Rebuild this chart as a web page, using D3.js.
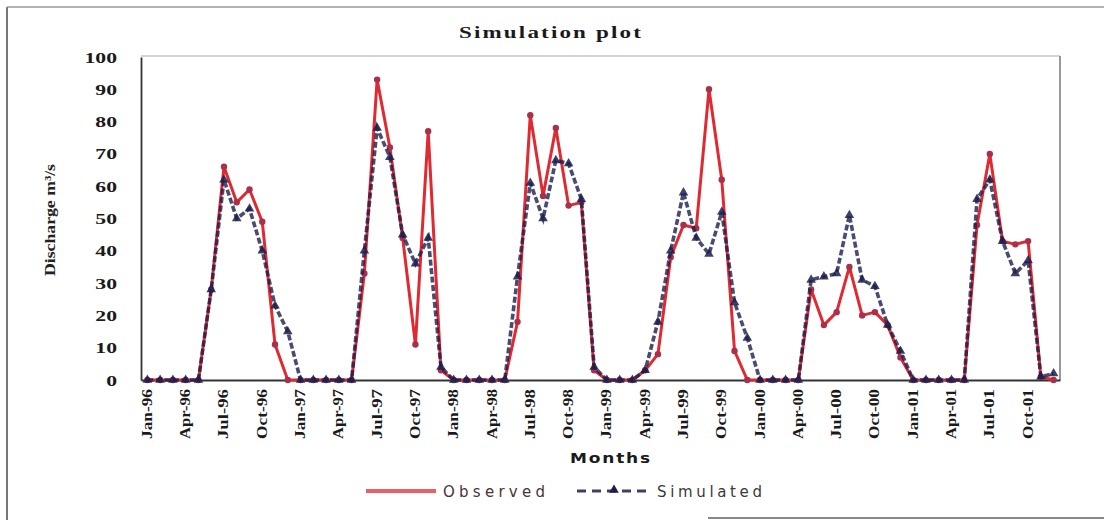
<!DOCTYPE html>
<html>
<head>
<meta charset="utf-8">
<script src="https://cdn.jsdelivr.net/npm/d3@7"></script>
<style>
  html, body { margin: 0; padding: 0; background: #ffffff; }
  svg { display: block; }
</style>
</head>
<body>
<svg id="chart" width="1104" height="520"></svg>
<script>
// Monthly categories, Jan-96 .. Dec-01
const categories = [
  "Jan-96","Feb-96","Mar-96","Apr-96","May-96","Jun-96","Jul-96","Aug-96","Sep-96","Oct-96","Nov-96","Dec-96",
  "Jan-97","Feb-97","Mar-97","Apr-97","May-97","Jun-97","Jul-97","Aug-97","Sep-97","Oct-97","Nov-97","Dec-97",
  "Jan-98","Feb-98","Mar-98","Apr-98","May-98","Jun-98","Jul-98","Aug-98","Sep-98","Oct-98","Nov-98","Dec-98",
  "Jan-99","Feb-99","Mar-99","Apr-99","May-99","Jun-99","Jul-99","Aug-99","Sep-99","Oct-99","Nov-99","Dec-99",
  "Jan-00","Feb-00","Mar-00","Apr-00","May-00","Jun-00","Jul-00","Aug-00","Sep-00","Oct-00","Nov-00","Dec-00",
  "Jan-01","Feb-01","Mar-01","Apr-01","May-01","Jun-01","Jul-01","Aug-01","Sep-01","Oct-01","Nov-01","Dec-01"
];

// Observed discharge (m3/s)
const observed = [
  0, 0, 0, 0, 0, 28, 66, 55, 59, 49, 11, 0,
  0, 0, 0, 0, 0, 33, 93, 72, 44, 11, 77, 3,
  0, 0, 0, 0, 0, 18, 82, 57, 78, 54, 55, 3,
  0, 0, 0, 3, 8, 38, 48, 47, 90, 62, 9, 0,
  0, 0, 0, 0, 28, 17, 21, 35, 20, 21, 17, 7,
  0, 0, 0, 0, 0, 48, 70, 43, 42, 43, 1, 0
];

// Simulated discharge (m3/s)
const simulated = [
  0, 0, 0, 0, 0, 28, 62, 50, 53, 40, 23, 15,
  0, 0, 0, 0, 0, 40, 78, 69, 45, 36, 44, 4,
  0, 0, 0, 0, 0, 32, 61, 50, 68, 67, 56, 4,
  0, 0, 0, 3, 18, 40, 58, 44, 39, 52, 24, 13,
  0, 0, 0, 0, 31, 32, 33, 51, 31, 29, 17, 9,
  0, 0, 0, 0, 0, 56, 62, 43, 33, 37, 1, 2
];

const yTicks = [0, 10, 20, 30, 40, 50, 60, 70, 80, 90, 100];
const xTickLabels = categories.filter(c => /^(Jan|Apr|Jul|Oct)/.test(c));

const svg = d3.select("#chart");
const plot = { left: 141, right: 1060, top: 56, bottom: 380 };

const x = d3.scalePoint().domain(categories).range([plot.left, plot.right]).padding(0.5);
const y = d3.scaleLinear().domain([0, 100]).range([plot.bottom, 57]);

// outer frame
svg.append("line").attr("x1", 7).attr("x2", 7).attr("y1", 7).attr("y2", 520)
  .attr("stroke", "#777").attr("stroke-width", 2);
svg.append("line").attr("x1", 7).attr("x2", 1104).attr("y1", 7).attr("y2", 7)
  .attr("stroke", "#999").attr("stroke-width", 1.5);
svg.append("line").attr("x1", 708).attr("x2", 1104).attr("y1", 518).attr("y2", 518)
  .attr("stroke", "#888").attr("stroke-width", 2);

// plot area border (top/right light)
svg.append("line").attr("x1", plot.left).attr("x2", plot.right).attr("y1", plot.top).attr("y2", plot.top)
  .attr("stroke", "#aaa").attr("stroke-width", 1.2);
svg.append("line").attr("x1", plot.right).attr("x2", plot.right).attr("y1", plot.top).attr("y2", plot.bottom)
  .attr("stroke", "#777").attr("stroke-width", 1.5);

// title
svg.append("text").attr("x", 551).attr("y", 38).attr("text-anchor", "middle")
  .style("font-family", "'Liberation Serif', 'DejaVu Serif', serif")
  .style("font-weight", "bold").style("font-size", "16px").style("letter-spacing", "1.5px")
  .attr("textLength", 184).attr("lengthAdjust", "spacingAndGlyphs")
  .attr("fill", "#1a1a1a").text("Simulation plot");

// y axis
const yAxis = svg.append("g").attr("transform", `translate(${plot.left},0)`)
  .call(d3.axisLeft(y).tickValues(yTicks).tickSize(0).tickPadding(0));
yAxis.select(".domain").attr("stroke", "#333").attr("stroke-width", 1.8);
yAxis.selectAll(".tick text")
  .attr("x", null).attr("dy", "0.36em")
  .attr("transform", "translate(-24,0) scale(1.55,1)")
  .style("font-family", "'Liberation Serif', serif").style("font-weight", "bold")
  .style("font-size", "14px").attr("fill", "#1a1a1a");

// x axis
const xAxis = svg.append("g").attr("transform", `translate(0,${plot.bottom})`)
  .call(d3.axisBottom(x).tickValues(xTickLabels).tickSize(0).tickPadding(0));
xAxis.select(".domain").attr("stroke", "#333").attr("stroke-width", 1.8);
xAxis.selectAll(".tick text")
  .attr("y", null).attr("dy", null)
  .attr("text-anchor", "end")
  .attr("transform", "translate(4,9) rotate(-90)")
  .attr("textLength", 50).attr("lengthAdjust", "spacingAndGlyphs")
  .style("font-family", "'Liberation Serif', serif").style("font-weight", "bold")
  .style("font-size", "14px").attr("fill", "#1a1a1a");

// axis titles
svg.append("text")
  .attr("transform", "translate(55,220) rotate(-90)")
  .attr("text-anchor", "middle")
  .style("font-family", "'Liberation Serif', serif").style("font-size", "15px")
  .style("font-weight", "bold")
  .attr("textLength", 112).attr("lengthAdjust", "spacingAndGlyphs")
  .attr("fill", "#222").text("Discharge m³/s");

svg.append("text").attr("x", 611).attr("y", 463).attr("text-anchor", "middle")
  .style("font-family", "'DejaVu Sans', sans-serif").style("font-weight", "bold")
  .style("font-size", "14px").style("letter-spacing", "1.5px")
  .attr("textLength", 82).attr("lengthAdjust", "spacingAndGlyphs")
  .attr("fill", "#1a1a1a").text("Months");

// series
const line = d3.line().x((d, i) => x(categories[i])).y(d => y(d));

const obsColor = "#df2a32";
const simColor = "#1c1f4c";

svg.append("path").datum(observed).attr("d", line)
  .attr("fill", "none").attr("stroke", obsColor).attr("stroke-width", 3)
  .attr("stroke-linejoin", "round");
svg.append("g").selectAll("circle").data(observed).join("circle")
  .attr("cx", (d, i) => x(categories[i])).attr("cy", d => y(d)).attr("r", 3.2)
  .attr("fill", "#a8304a");

svg.append("path").datum(simulated).attr("d", line)
  .attr("fill", "none").attr("stroke", simColor).attr("stroke-width", 3.6)
  .attr("stroke-dasharray", "6,2.5").attr("stroke-opacity", 0.8);
const tri = d3.symbol().type(d3.symbolTriangle).size(40);
svg.append("g").selectAll("path").data(simulated).join("path")
  .attr("d", tri)
  .attr("transform", (d, i) => `translate(${x(categories[i])},${y(d)})`)
  .attr("fill", simColor).attr("fill-opacity", 0.85);

// legend
const lg = svg.append("g");
lg.append("line").attr("x1", 366).attr("x2", 436).attr("y1", 491).attr("y2", 491)
  .attr("stroke", obsColor).attr("stroke-width", 3.5);
lg.append("line").attr("x1", 366).attr("x2", 436).attr("y1", 491).attr("y2", 491)
  .attr("stroke", "#f4b8b8").attr("stroke-width", 0.8);
lg.append("text").attr("x", 443).attr("y", 497)
  .style("font-family", "'DejaVu Sans', sans-serif").style("font-size", "15px")
  .attr("textLength", 102).attr("lengthAdjust", "spacing")
  .attr("fill", "#4a3434").text("Observed");
lg.append("line").attr("x1", 577).attr("x2", 651).attr("y1", 491).attr("y2", 491)
  .attr("stroke", simColor).attr("stroke-width", 3.2).attr("stroke-dasharray", "9,6")
  .attr("stroke-opacity", 0.85);
lg.append("path").attr("d", tri).attr("transform", "translate(614,490)").attr("fill", simColor);
lg.append("text").attr("x", 657).attr("y", 497)
  .style("font-family", "'DejaVu Sans', sans-serif").style("font-size", "15px")
  .attr("textLength", 105).attr("lengthAdjust", "spacing")
  .attr("fill", "#3a3a3a").text("Simulated");
</script>
</body>
</html>
